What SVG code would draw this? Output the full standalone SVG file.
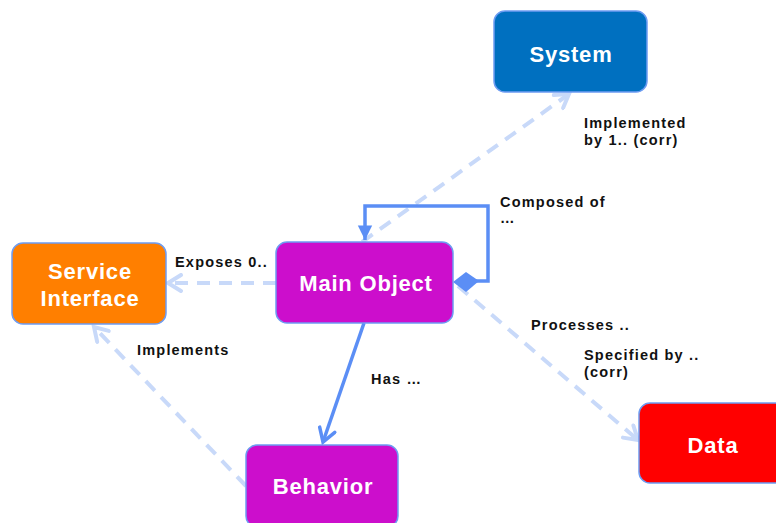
<svg xmlns="http://www.w3.org/2000/svg" width="776" height="523" viewBox="0 0 776 523">
<style>
.node{stroke:#6d9cf2;stroke-width:1.5}
.nt{font-family:"Liberation Sans",Arial,sans-serif;font-weight:bold;font-size:22px;fill:#ffffff;text-anchor:middle;letter-spacing:0.8px}
.el{font-family:"Liberation Sans",Arial,sans-serif;font-weight:bold;font-size:14.5px;fill:#111111;letter-spacing:1.2px}
.dash{fill:none;stroke:#c8d9f9;stroke-width:4;stroke-dasharray:13 9}
.solid{fill:none;stroke:#5b8ef5;stroke-width:3.5}
</style>
<defs>
<marker id="openL" viewBox="0 0 20 20" refX="17" refY="10" markerWidth="20" markerHeight="20" markerUnits="userSpaceOnUse" orient="auto">
<path d="M4,2 L17,10 L4,18" fill="none" stroke="#c8d9f9" stroke-width="4" stroke-linecap="round"/>
</marker>
<marker id="openS" viewBox="0 0 20 20" refX="17" refY="10" markerWidth="20" markerHeight="20" markerUnits="userSpaceOnUse" orient="auto">
<path d="M4,2 L17,10 L4,18" fill="none" stroke="#5b8ef5" stroke-width="3.5" stroke-linecap="round"/>
</marker>
<marker id="fillS" viewBox="0 0 20 20" refX="18" refY="10" markerWidth="18" markerHeight="18" markerUnits="userSpaceOnUse" orient="auto">
<path d="M2,2 L18,10 L2,18 Z" fill="#5b8ef5"/>
</marker>
</defs>
<g id="connectors">
<line class="dash" x1="362" y1="242" x2="569" y2="94" marker-end="url(#openL)"/>
<line class="dash" x1="276" y1="283" x2="168" y2="283" marker-end="url(#openL)"/>
<line class="dash" x1="246" y1="486" x2="94" y2="327" marker-end="url(#openL)"/>
<line class="dash" x1="458" y1="286" x2="638" y2="440" marker-end="url(#openL)"/>
<path class="solid" d="M476,281 H488 V206 H365 V240" marker-end="url(#fillS)"/>
<path d="M453,282 L466,272 L479,281 L466,292 Z" fill="#5b8ef5"/>
<line class="solid" x1="364" y1="323" x2="323" y2="442" marker-end="url(#openS)"/>
</g>
<g id="system">
<rect class="node" x="494" y="11" width="153" height="81" rx="11" fill="#0070c0"/>
<text class="nt" x="571" y="62">System</text>
</g>
<g id="main-object">
<rect class="node" x="276" y="242" width="177" height="81" rx="11" fill="#cc0ecc"/>
<text class="nt" x="366" y="291">Main Object</text>
</g>
<g id="service-interface">
<rect class="node" x="12" y="243" width="154" height="81" rx="11" fill="#ff7f00"/>
<text class="nt" x="90" y="279">Service</text>
<text class="nt" x="90" y="306">Interface</text>
</g>
<g id="data">
<rect class="node" x="639" y="403" width="150" height="80" rx="11" fill="#ff0000"/>
<text class="nt" x="713" y="453">Data</text>
</g>
<g id="behavior">
<rect class="node" x="246" y="445" width="152" height="82" rx="11" fill="#cc0ecc"/>
<text class="nt" x="323" y="494">Behavior</text>
</g>
<g id="labels">
<text class="el" x="584" y="128">Implemented</text>
<text class="el" x="584" y="145">by 1.. (corr)</text>
<text class="el" x="500" y="207">Composed of</text>
<text class="el" x="500" y="223">…</text>
<text class="el" x="175" y="267">Exposes 0..</text>
<text class="el" x="137" y="355">Implements</text>
<text class="el" x="371" y="384">Has …</text>
<text class="el" x="531" y="330">Processes ..</text>
<text class="el" x="584" y="360">Specified by ..</text>
<text class="el" x="584" y="377">(corr)</text>
</g>
</svg>
